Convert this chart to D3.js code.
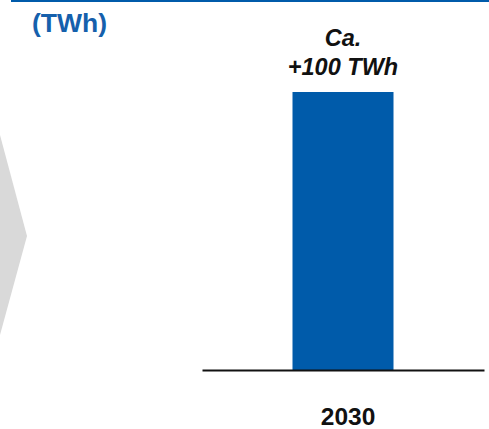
<!DOCTYPE html>
<html>
<head>
<meta charset="utf-8">
<script src="https://cdn.jsdelivr.net/npm/d3@7"></script>
<style>
  html, body { margin: 0; padding: 0; background: #fff; }
  svg { display: block; }
  text { font-family: "Liberation Sans", Arial, Helvetica, sans-serif; }
</style>
</head>
<body>
<div id="chart"></div>
<script>
// Additional demand by year (TWh)
const categories = ["2030"];
const values = [100];
const valueLabels = [["Ca.", "+100 TWh"]];
const unitLabel = "(TWh)";

const W = 489, H = 429;
const blue = "#005BAA";

const svg = d3.select("#chart").append("svg")
  .attr("width", W).attr("height", H);

// header rule
svg.append("rect")
  .attr("x", 11).attr("y", 0).attr("width", W - 11).attr("height", 2)
  .attr("fill", blue);

// unit label
svg.append("text")
  .attr("x", 32).attr("y", 32)
  .attr("font-size", 26.5).attr("font-weight", "bold")
  .attr("fill", "#1560AC")
  .text(unitLabel);

// grey chevron arrow on the left
svg.append("path")
  .attr("d", "M0,135 L27,236 L0,335 Z")
  .attr("fill", "#d9d9d9");

// scales
const x = d3.scaleBand()
  .domain(categories)
  .range([202, 484])
  .paddingInner(0.2)
  .paddingOuter(0.32);

const y = d3.scaleLinear()
  .domain([0, 100])
  .range([370, 92]);

// bars
svg.selectAll("rect.bar")
  .data(values)
  .join("rect")
  .attr("class", "bar")
  .attr("x", (d, i) => x(categories[i]) + (x.bandwidth() - 101) / 2)
  .attr("width", 101)
  .attr("y", d => y(d))
  .attr("height", d => y(0) - y(d))
  .attr("fill", blue);

// baseline axis
const axis = d3.axisBottom(x).tickSize(0).tickPadding(38);
const gAxis = svg.append("g")
  .attr("transform", `translate(0,${y(0)})`)
  .call(axis);
gAxis.select(".domain")
  .attr("stroke", "#111").attr("stroke-width", 2.2);
gAxis.selectAll(".tick text")
  .attr("font-size", 24.5).attr("font-weight", "bold")
  .attr("fill", "#111")
  .attr("font-family", "'Liberation Sans', Arial, sans-serif")
  .attr("dx", 5);

// value labels above bars
values.forEach((v, i) => {
  const cx = x(categories[i]) + x.bandwidth() / 2;
  const t = svg.append("text")
    .attr("text-anchor", "middle")
    .attr("font-size", 23.5)
    .attr("font-weight", "bold")
    .attr("font-style", "italic")
    .attr("fill", "#111");
  valueLabels[i].forEach((line, k) => {
    t.append("tspan")
      .attr("x", cx)
      .attr("y", y(v) - 46 + k * 29)
      .text(line);
  });
});
</script>
</body>
</html>
